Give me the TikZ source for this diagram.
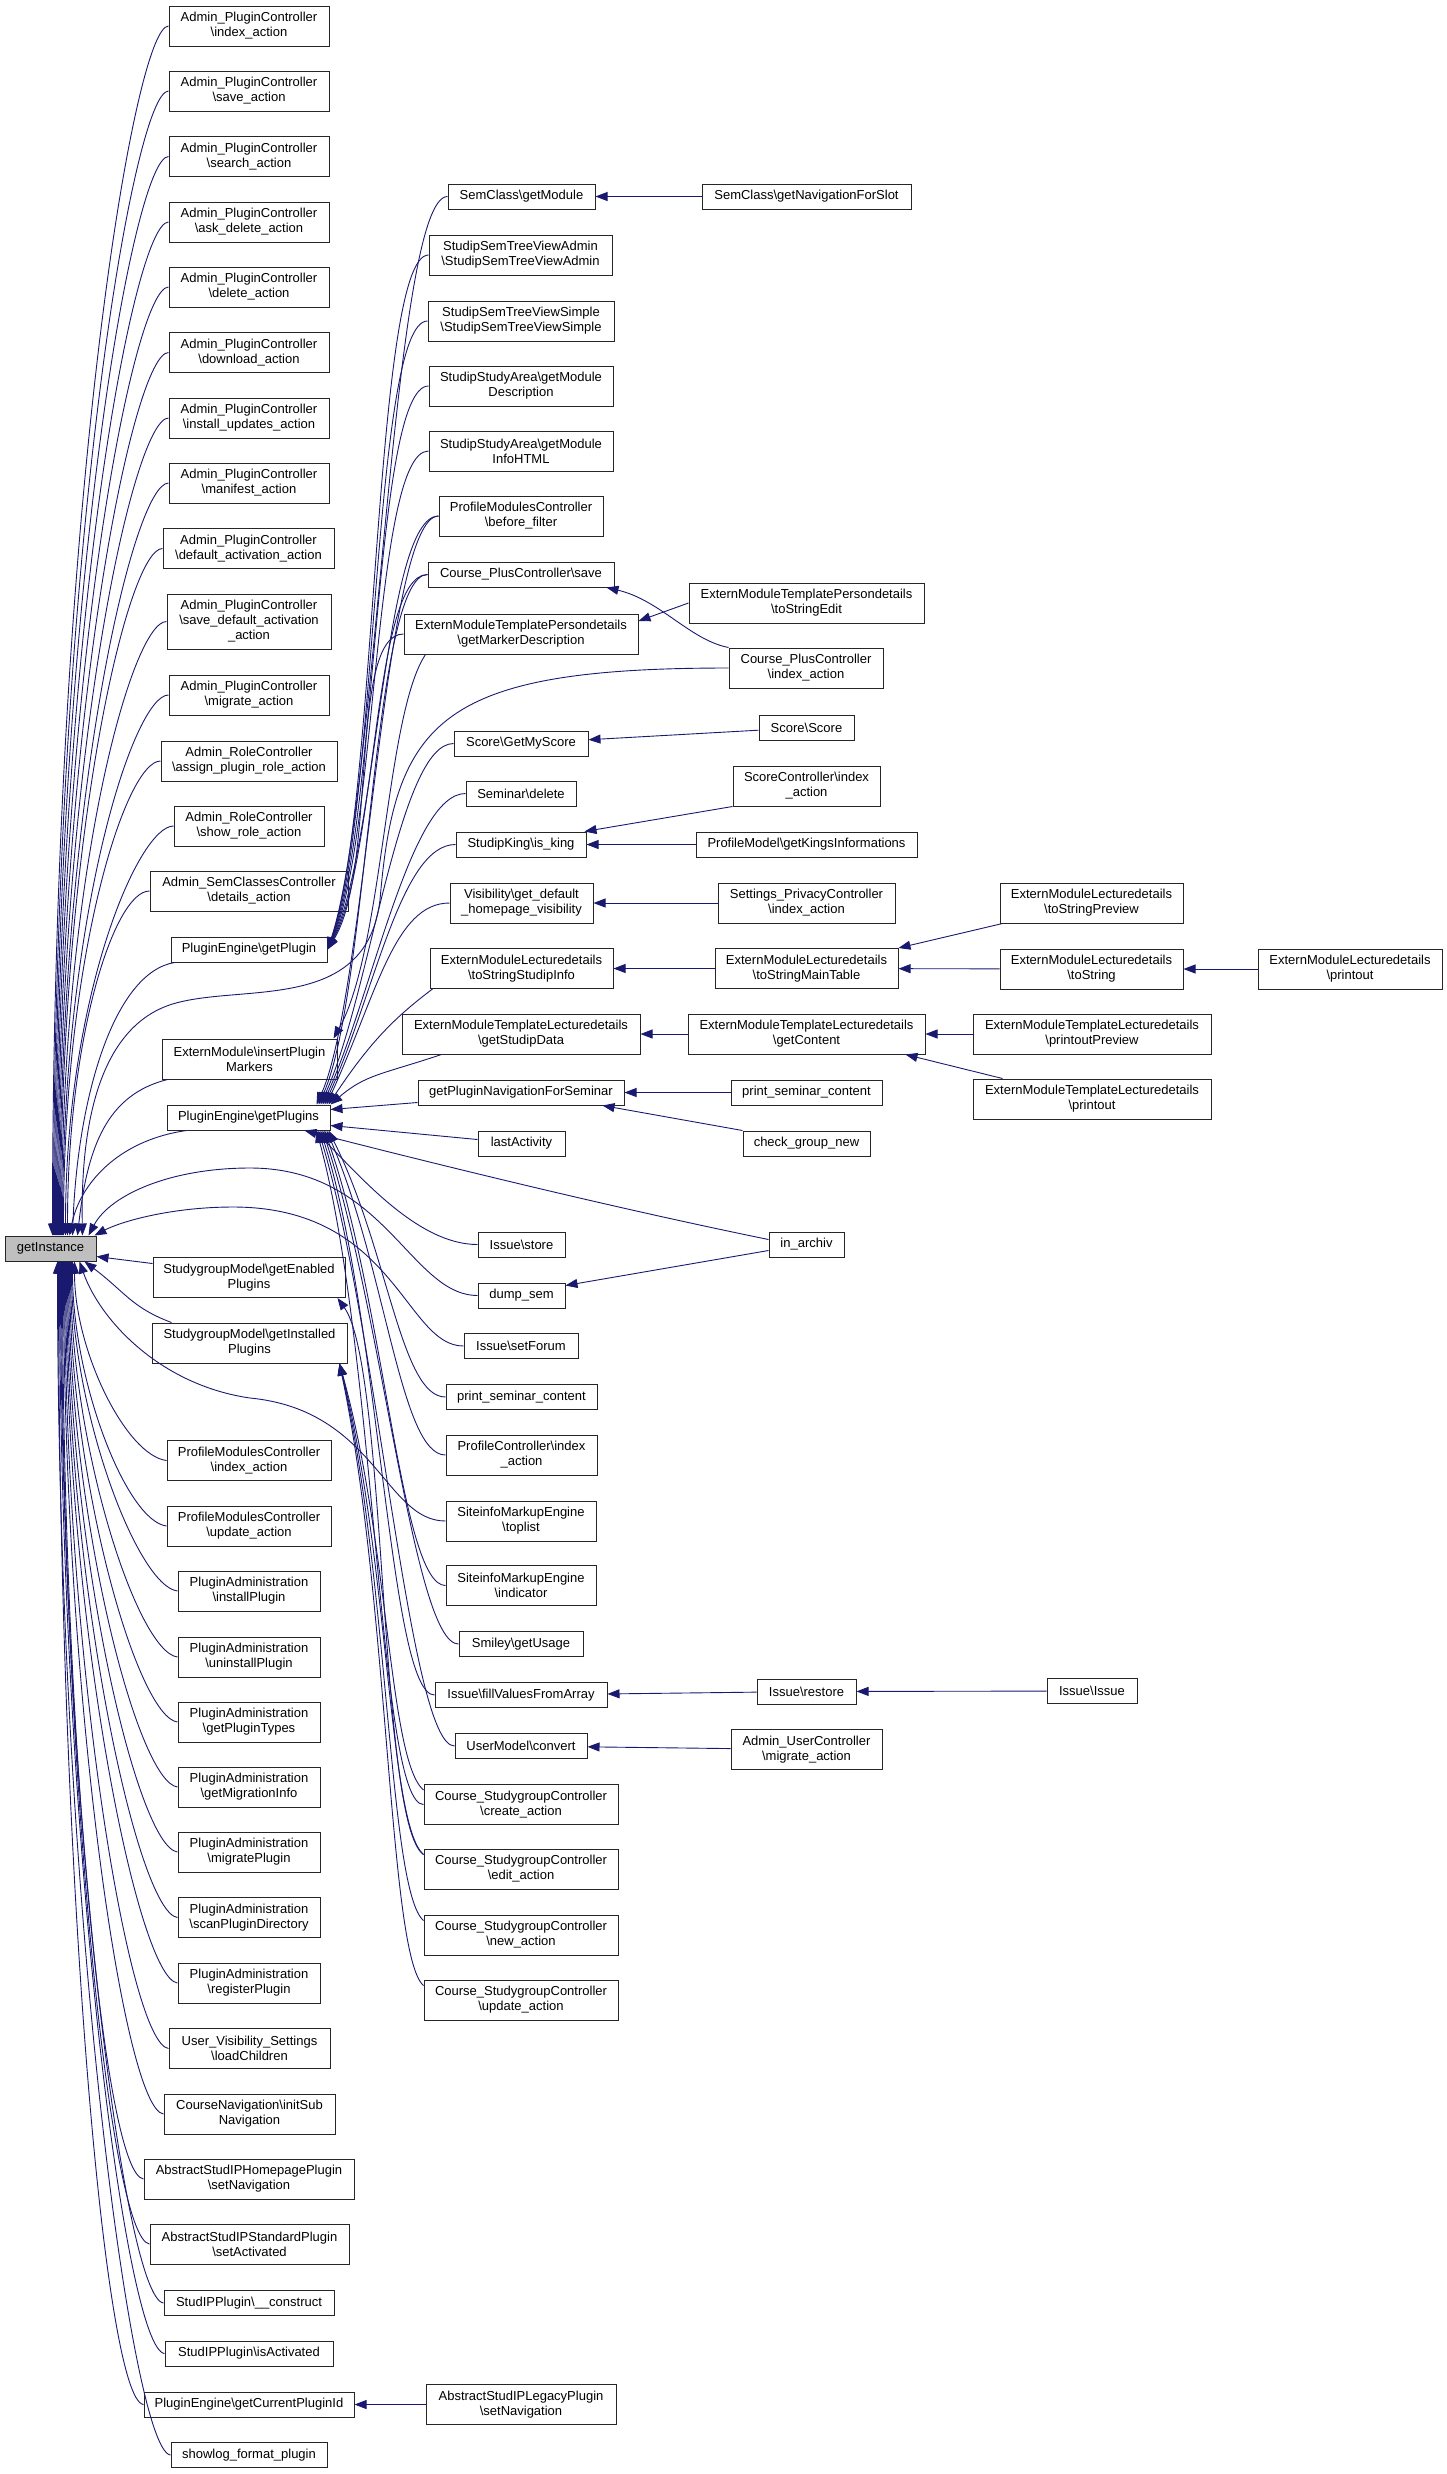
\documentclass[tikz,border=0pt]{standalone}
\usepackage{fontspec}
\setmainfont{Liberation Sans}
\usetikzlibrary{arrows.meta}
\definecolor{edgeblue}{HTML}{191970}
\definecolor{rootgray}{HTML}{BFBFBF}
\newcommand{\bksl}{\textbackslash}

\begin{document}
\begin{tikzpicture}[
  x=1pt, y=-1pt,
  box/.style={rectangle, draw=black!85, line width=1pt, fill=white, inner sep=0pt, align=center, font=\fontsize{13}{15}\selectfont},
  oneline/.style={box, minimum height=25pt},
  twoline/.style={box, minimum height=40pt},
  threeline/.style={box, minimum height=55pt},
  root/.style={oneline, fill=rootgray},
  arrow/.style={-{Triangle[length=12pt, width=9pt]}, draw=edgeblue, line width=0.9pt}
]
  \useasboundingbox (0,0) rectangle (1447,2474);

  % The function itself
  \node[root, minimum width=91] (inst) at (50.5,1248.5) {getInstance};

  % Direct callers, first column
  \node[twoline, minimum width=160] (adm1) at (249,26) {Admin\_PluginController\\\bksl{}index\_action};
  \node[twoline, minimum width=160] (adm2) at (249,91) {Admin\_PluginController\\\bksl{}save\_action};
  \node[twoline, minimum width=160] (adm3) at (249,156.5) {Admin\_PluginController\\\bksl{}search\_action};
  \node[twoline, minimum width=160] (adm4) at (249,222) {Admin\_PluginController\\\bksl{}ask\_delete\_action};
  \node[twoline, minimum width=160] (adm5) at (249,287) {Admin\_PluginController\\\bksl{}delete\_action};
  \node[twoline, minimum width=160] (adm6) at (249,352.5) {Admin\_PluginController\\\bksl{}download\_action};
  \node[twoline, minimum width=160] (adm7) at (249,418) {Admin\_PluginController\\\bksl{}install\_updates\_action};
  \node[twoline, minimum width=160] (adm8) at (249,483) {Admin\_PluginController\\\bksl{}manifest\_action};
  \node[twoline, minimum width=171] (adm9) at (248.5,548.5) {Admin\_PluginController\\\bksl{}default\_activation\_action};
  \node[threeline, minimum width=164] (adm10) at (249,621.5) {Admin\_PluginController\\\bksl{}save\_default\_activation\\\_action};
  \node[twoline, minimum width=160] (adm11) at (249,695) {Admin\_PluginController\\\bksl{}migrate\_action};
  \node[twoline, minimum width=176] (role1) at (249,761) {Admin\_RoleController\\\bksl{}assign\_plugin\_role\_action};
  \node[twoline, minimum width=150] (role2) at (249,826) {Admin\_RoleController\\\bksl{}show\_role\_action};
  \node[twoline, minimum width=198] (semcls) at (249,891) {Admin\_SemClassesController\\\bksl{}details\_action};
  \node[oneline, minimum width=156] (plugin) at (249,949.5) {PluginEngine\bksl{}getPlugin};
  \node[twoline, minimum width=175] (markers) at (249.5,1059) {ExternModule\bksl{}insertPlugin\\Markers};
  \node[oneline, minimum width=163] (plugins) at (248.5,1117.5) {PluginEngine\bksl{}getPlugins};
  \node[twoline, minimum width=192] (sgEnabled) at (249,1277.5) {StudygroupModel\bksl{}getEnabled\\Plugins};
  \node[twoline, minimum width=195] (sgInstalled) at (249.5,1343) {StudygroupModel\bksl{}getInstalled\\Plugins};
  \node[twoline, minimum width=164] (pmcIndex) at (249,1460.5) {ProfileModulesController\\\bksl{}index\_action};
  \node[twoline, minimum width=164] (pmcUpdate) at (249,1526) {ProfileModulesController\\\bksl{}update\_action};
  \node[twoline, minimum width=142] (pa1) at (249,1591) {PluginAdministration\\\bksl{}installPlugin};
  \node[twoline, minimum width=142] (pa2) at (249,1657) {PluginAdministration\\\bksl{}uninstallPlugin};
  \node[twoline, minimum width=142] (pa3) at (249,1722) {PluginAdministration\\\bksl{}getPluginTypes};
  \node[twoline, minimum width=142] (pa4) at (249,1787) {PluginAdministration\\\bksl{}getMigrationInfo};
  \node[twoline, minimum width=142] (pa5) at (249,1852) {PluginAdministration\\\bksl{}migratePlugin};
  \node[twoline, minimum width=142] (pa6) at (249,1917.5) {PluginAdministration\\\bksl{}scanPluginDirectory};
  \node[twoline, minimum width=142] (pa7) at (249,1983) {PluginAdministration\\\bksl{}registerPlugin};
  \node[twoline, minimum width=161] (uvs) at (249.5,2048.5) {User\_Visibility\_Settings\\\bksl{}loadChildren};
  \node[twoline, minimum width=171] (cnav) at (249.5,2114) {CourseNavigation\bksl{}initSub\\Navigation};
  \node[twoline, minimum width=210] (hpNav) at (249,2179) {AbstractStudIPHomepagePlugin\\\bksl{}setNavigation};
  \node[twoline, minimum width=199] (stdAct) at (249.5,2244) {AbstractStudIPStandardPlugin\\\bksl{}setActivated};
  \node[oneline, minimum width=170] (spConstruct) at (249,2303) {StudIPPlugin\bksl{}\_\_construct};
  \node[oneline, minimum width=168] (spActive) at (249,2353.5) {StudIPPlugin\bksl{}isActivated};
  \node[oneline, minimum width=210] (curId) at (249,2404.5) {PluginEngine\bksl{}getCurrentPluginId};
  \node[oneline, minimum width=156] (showlog) at (249,2455) {showlog\_format\_plugin};

  % Second column
  \node[oneline, minimum width=147] (getModule) at (521.5,196.5) {SemClass\bksl{}getModule};
  \node[twoline, minimum width=183] (treeAdmin) at (520.5,255) {StudipSemTreeViewAdmin\\\bksl{}StudipSemTreeViewAdmin};
  \node[twoline, minimum width=186] (treeSimple) at (521,321) {StudipSemTreeViewSimple\\\bksl{}StudipSemTreeViewSimple};
  \node[twoline, minimum width=184] (areaDesc) at (521,386) {StudipStudyArea\bksl{}getModule\\Description};
  \node[twoline, minimum width=184] (areaInfo) at (521,451) {StudipStudyArea\bksl{}getModule\\InfoHTML};
  \node[twoline, minimum width=164] (pmcFilter) at (521,516) {ProfileModulesController\\\bksl{}before\_filter};
  \node[oneline, minimum width=186] (plusSave) at (521,574.5) {Course\_PlusController\bksl{}save};
  \node[twoline, minimum width=234] (persMarker) at (521,634) {ExternModuleTemplatePersondetails\\\bksl{}getMarkerDescription};
  \node[oneline, minimum width=134] (myScore) at (521,743.5) {Score\bksl{}GetMyScore};
  \node[oneline, minimum width=110] (semDelete) at (521,793.5) {Seminar\bksl{}delete};
  \node[oneline, minimum width=130] (isKing) at (521,844.5) {StudipKing\bksl{}is\_king};
  \node[twoline, minimum width=143] (visDefault) at (521.5,903) {Visibility\bksl{}get\_default\\\_homepage\_visibility};
  \node[twoline, minimum width=183] (lectInfo) at (521.5,968.5) {ExternModuleLecturedetails\\\bksl{}toStringStudipInfo};
  \node[twoline, minimum width=238] (tplData) at (521,1034) {ExternModuleTemplateLecturedetails\\\bksl{}getStudipData};
  \node[oneline, minimum width=206] (navSem) at (521,1092.5) {getPluginNavigationForSeminar};
  \node[oneline, minimum width=87] (lastAct) at (521.5,1143.5) {lastActivity};
  \node[oneline, minimum width=87] (issueStore) at (521.5,1244.5) {Issue\bksl{}store};
  \node[oneline, minimum width=87] (dumpSem) at (521.5,1295.5) {dump\_sem};
  \node[oneline, minimum width=114] (issueForum) at (521,1346) {Issue\bksl{}setForum};
  \node[oneline, minimum width=151] (printSem) at (521.5,1397) {print\_seminar\_content};
  \node[twoline, minimum width=151] (profIndex) at (521.5,1455) {ProfileController\bksl{}index\\\_action};
  \node[twoline, minimum width=150] (siteTop) at (521,1521) {SiteinfoMarkupEngine\\\bksl{}toplist};
  \node[twoline, minimum width=150] (siteInd) at (521,1585.5) {SiteinfoMarkupEngine\\\bksl{}indicator};
  \node[oneline, minimum width=124] (smiley) at (521,1644) {Smiley\bksl{}getUsage};
  \node[oneline, minimum width=172] (issueFill) at (521,1695) {Issue\bksl{}fillValuesFromArray};
  \node[oneline, minimum width=132] (userConv) at (521,1746) {UserModel\bksl{}convert};
  \node[twoline, minimum width=194] (sgCreate) at (521,1804.5) {Course\_StudygroupController\\\bksl{}create\_action};
  \node[twoline, minimum width=194] (sgEdit) at (521,1869) {Course\_StudygroupController\\\bksl{}edit\_action};
  \node[twoline, minimum width=194] (sgNew) at (521,1935) {Course\_StudygroupController\\\bksl{}new\_action};
  \node[twoline, minimum width=194] (sgUpdate) at (521,2000) {Course\_StudygroupController\\\bksl{}update\_action};
  \node[twoline, minimum width=190] (legacyNav) at (521,2404.5) {AbstractStudIPLegacyPlugin\\\bksl{}setNavigation};

  % Third column
  \node[oneline, minimum width=209] (navSlot) at (806.5,196.5) {SemClass\bksl{}getNavigationForSlot};
  \node[twoline, minimum width=235] (persEdit) at (806.5,603) {ExternModuleTemplatePersondetails\\\bksl{}toStringEdit};
  \node[twoline, minimum width=154] (plusIndex) at (806,668) {Course\_PlusController\\\bksl{}index\_action};
  \node[oneline, minimum width=95] (scoreScore) at (806.5,727.5) {Score\bksl{}Score};
  \node[twoline, minimum width=147] (scoreIndex) at (806.5,786) {ScoreController\bksl{}index\\\_action};
  \node[oneline, minimum width=221] (kingsInfo) at (806.5,844.5) {ProfileModel\bksl{}getKingsInformations};
  \node[twoline, minimum width=177] (privacyIndex) at (806.5,903) {Settings\_PrivacyController\\\bksl{}index\_action};
  \node[twoline, minimum width=183] (lectMain) at (806.5,968.5) {ExternModuleLecturedetails\\\bksl{}toStringMainTable};
  \node[twoline, minimum width=237] (tplContent) at (806.5,1034) {ExternModuleTemplateLecturedetails\\\bksl{}getContent};
  \node[oneline, minimum width=151] (printSem2) at (806.5,1092.5) {print\_seminar\_content};
  \node[oneline, minimum width=127] (checkGroup) at (806.5,1143.5) {check\_group\_new};
  \node[oneline, minimum width=75] (inArchiv) at (806.5,1244.5) {in\_archiv};
  \node[oneline, minimum width=99] (issueRestore) at (806.5,1691.5) {Issue\bksl{}restore};
  \node[twoline, minimum width=151] (userMigrate) at (806.5,1749.5) {Admin\_UserController\\\bksl{}migrate\_action};

  % Fourth and fifth columns
  \node[twoline, minimum width=183] (lectPreview) at (1091.5,903) {ExternModuleLecturedetails\\\bksl{}toStringPreview};
  \node[twoline, minimum width=183] (lectString) at (1091.5,969) {ExternModuleLecturedetails\\\bksl{}toString};
  \node[twoline, minimum width=238] (tplPreview) at (1092,1034) {ExternModuleTemplateLecturedetails\\\bksl{}printoutPreview};
  \node[twoline, minimum width=238] (tplPrintout) at (1092,1099) {ExternModuleTemplateLecturedetails\\\bksl{}printout};
  \node[oneline, minimum width=90] (issueIssue) at (1092,1691) {Issue\bksl{}Issue};
  \node[twoline, minimum width=184] (lectPrintout) at (1350,969) {ExternModuleLecturedetails\\\bksl{}printout};

  % Calls into getInstance from above
  \foreach \n/\e/\d in {adm1/48/720, adm2/49/680, adm3/50/640, adm4/51/600, adm5/52/560, adm6/53/520, adm7/54/480, adm8/55/440, adm9/56/400, adm10/57/360, adm11/58/320, role1/59/280, role2/61/240, semcls/63/200}
    \draw[arrow] (\n.west) .. controls +(-35,0) and +(0,-\d) .. ([xshift=\e]inst.north west);
  \draw[arrow] ([xshift=4]plugin.south west) .. controls +(-60,10) and +(5,-140) .. ([xshift=68]inst.north west);
  \draw[arrow] ([xshift=6]markers.south west) .. controls +(-60,15) and +(10,-90) .. ([xshift=73]inst.north west);
  \draw[arrow] ([xshift=20]plugins.south west) .. controls +(-70,10) and +(10,-50) .. ([xshift=65]inst.north west);
  \draw[arrow] (plusIndex.west) .. controls (440,668) and (395,720) .. (380,900) .. controls (367,1010) and (250,985) .. (180,1002) .. controls (110,1018) and (80,1100) .. ([xshift=78]inst.north west);
  \draw[arrow] (dumpSem.west) .. controls (410,1295) and (385,1168) .. (250,1168) .. controls (170,1168) and (110,1195) .. ([xshift=84]inst.north west);
  \draw[arrow] (issueForum.west) .. controls (405,1346) and (395,1207) .. (233,1207) .. controls (170,1207) and (120,1222) .. ([xshift=90]inst.north west);

  % Calls into getInstance from below
  \foreach \n/\e/\d in {pmcIndex/70/90, pmcUpdate/68/120, pa1/67/150, pa2/66/185, pa3/65/220, pa4/64/255, pa5/63/290, pa6/62/325, pa7/61/360, uvs/60/395, cnav/59/430, hpNav/58/465, stdAct/57/500, spConstruct/56/535, spActive/55/565, curId/54/595, showlog/53/625}
    \draw[arrow] (\n.west) .. controls +(-40,-5) and +(0,\d) .. ([xshift=\e]inst.south west);
  \draw[arrow] ([yshift=14]sgEnabled.west) -- ([yshift=-8]inst.east);
  \draw[arrow] ([xshift=20]sgInstalled.north west) .. controls +(-40,-15) and +(40,30) .. ([xshift=80]inst.south west);
  \draw[arrow] (siteTop.west) .. controls (385,1521) and (375,1410) .. (250,1398) .. controls (160,1385) and (100,1320) .. ([xshift=75]inst.south west);

  % Calls into getPlugin
  \foreach \n/\d in {getModule/150, treeAdmin/140, treeSimple/130, areaDesc/120, areaInfo/110, pmcFilter/100, plusSave/90, persMarker/80}
    \draw[arrow] (\n.west) .. controls +(-55,0) and +(50,-\d) .. (plugin.east);
  \draw[arrow] ([xshift=22]persMarker.south west) .. controls +(-40,60) and +(50,-90) .. ([xshift=-4]markers.north east);

  % Calls into getPlugins
  \foreach \n/\e in {pmcFilter/14, plusSave/12, myScore/10, semDelete/8, isKing/6, visDefault/4}
    \draw[arrow] (\n.west) .. controls +(-55,0) and +(50,-110) .. ([xshift=-\e]plugins.north east);
  \draw[arrow] ([xshift=3]lectInfo.south west) .. controls +(-40,30) and +(40,-60) .. ([xshift=-2]plugins.north east);
  \draw[arrow] ([xshift=40]tplData.south west) .. controls +(-60,20) and +(35,-30) .. (plugins.north east);
  \draw[arrow] ([yshift=-10]navSem.west) -- ([yshift=8]plugins.east);
  \draw[arrow] ([yshift=4]lastAct.west) -- ([yshift=-8]plugins.east);
  \draw[arrow] ([yshift=5]inArchiv.west) .. controls (600,1205) and (420,1160) .. ([xshift=-26]plugins.south east);
  \draw[arrow] (issueStore.west) .. controls +(-60,0) and +(45,45) .. ([xshift=-16]plugins.south east);
  \foreach \n/\e/\d in {printSem/2/120, profIndex/4/140, siteInd/6/170, smiley/8/180, issueFill/10/190, userConv/12/200, sgCreate/14/220}
    \draw[arrow] (\n.west) .. controls +(-45,0) and +(60,\d) .. ([xshift=-\e]plugins.south east);

  % Studygroup model calls
  \foreach \n/\d in {sgCreate/180, sgEdit/200, sgNew/220, sgUpdate/240}
    \draw[arrow] ([yshift=-6]\n.north west) .. controls +(-35,-30) and +(50,\d) .. ([xshift=-8]sgInstalled.south east);
  \draw[arrow] ([yshift=-6]sgEdit.north west) .. controls +(-45,-30) and +(50,70) .. ([xshift=-8]sgEnabled.south east);

  % Further callers
  \draw[arrow] (navSlot) -- (getModule);
  \draw[arrow] (persEdit.west) -- ([yshift=13]persMarker.east);
  \draw[arrow] (plusIndex.north west) .. controls (690,640) and (660,600) .. ([xshift=-8]plusSave.south east);
  \draw[arrow] (scoreScore) -- (myScore);
  \draw[arrow] (scoreIndex.south west) -- ([xshift=-2]isKing.north east);
  \draw[arrow] (kingsInfo) -- (isKing);
  \draw[arrow] (privacyIndex) -- (visDefault);
  \draw[arrow] (lectMain) -- (lectInfo);
  \draw[arrow] ([xshift=3]lectPreview.south west) -- (lectMain.north east);
  \draw[arrow] (lectString) -- (lectMain);
  \draw[arrow] (lectPrintout) -- (lectString);
  \draw[arrow] (tplContent) -- (tplData);
  \draw[arrow] (tplPreview) -- (tplContent);
  \draw[arrow] ([xshift=30]tplPrintout.north west) -- ([xshift=-20]tplContent.south east);
  \draw[arrow] (printSem2) -- (navSem);
  \draw[arrow] (checkGroup.north west) -- ([xshift=-22]navSem.south east);
  \draw[arrow] ([yshift=-6]inArchiv.west) -- ([yshift=10]dumpSem.east);
  \draw[arrow] (issueRestore) -- (issueFill);
  \draw[arrow] (issueIssue) -- (issueRestore);
  \draw[arrow] (userMigrate) -- (userConv);
  \draw[arrow] (legacyNav) -- (curId);

\end{tikzpicture}
\end{document}
